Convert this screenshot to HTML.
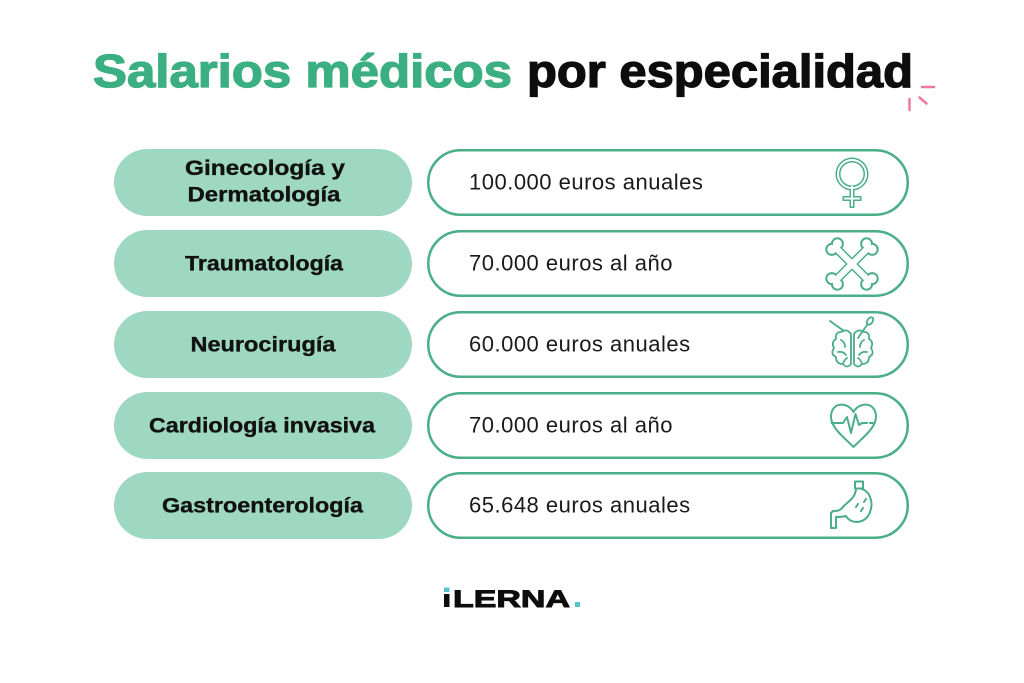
<!DOCTYPE html>
<html>
<head>
<meta charset="utf-8">
<style>
  html, body { margin:0; padding:0; background:#ffffff; }
  body { width:1024px; height:683px; overflow:hidden; }
  svg { display:block; }
  .lbl { font-family:"Liberation Sans", Arial, sans-serif; font-weight:bold; font-size:21px; fill:#111111; stroke:#111111; stroke-width:0.35; }
  .val { font-family:"Liberation Sans", Arial, sans-serif; font-size:22px; fill:#1a1a1a; letter-spacing:0.5px; }
</style>
</head>
<body>
<svg width="1024" height="683" viewBox="0 0 1024 683" xmlns="http://www.w3.org/2000/svg">
  <rect width="1024" height="683" fill="#ffffff"/>

  <!-- Title -->
  <text x="93" y="87" font-family="Liberation Sans, Arial, sans-serif" font-weight="bold" font-size="46" fill="#3baf82" stroke="#3baf82" stroke-width="1.3" textLength="419" lengthAdjust="spacingAndGlyphs">Salarios médicos</text>
  <text x="527" y="87" font-family="Liberation Sans, Arial, sans-serif" font-weight="bold" font-size="46" fill="#0d0d0d" stroke="#0d0d0d" stroke-width="1.3" textLength="386" lengthAdjust="spacingAndGlyphs">por especialidad</text>

  <!-- pink accent -->
  <g stroke="#ef7a9a" stroke-width="2.5" stroke-linecap="round" fill="none">
    <line x1="922" y1="87" x2="934" y2="87"/>
    <line x1="909.5" y1="99" x2="909.5" y2="110"/>
    <line x1="919.5" y1="97.5" x2="926.5" y2="103.5"/>
  </g>

  <!-- Left pills -->
  <g fill="#9ed8c2">
    <rect x="114" y="149" width="298" height="67" rx="33.5"/>
    <rect x="114" y="230" width="298" height="67" rx="33.5"/>
    <rect x="114" y="311" width="298" height="67" rx="33.5"/>
    <rect x="114" y="392" width="298" height="67" rx="33.5"/>
    <rect x="114" y="472" width="298" height="67" rx="33.5"/>
  </g>

  <!-- Right pills -->
  <g fill="#ffffff" stroke="#4aae88" stroke-width="2.5">
    <rect x="428.25" y="150.25" width="479.5" height="64.5" rx="32.25"/>
    <rect x="428.25" y="231.25" width="479.5" height="64.5" rx="32.25"/>
    <rect x="428.25" y="312.25" width="479.5" height="64.5" rx="32.25"/>
    <rect x="428.25" y="393.25" width="479.5" height="64.5" rx="32.25"/>
    <rect x="428.25" y="473.25" width="479.5" height="64.5" rx="32.25"/>
  </g>

  <!-- Left labels -->
  <g text-anchor="middle">
    <text class="lbl" x="265" y="175" textLength="160" lengthAdjust="spacingAndGlyphs">Ginecología y</text>
    <text class="lbl" x="264" y="201.5" textLength="153" lengthAdjust="spacingAndGlyphs">Dermatología</text>
    <text class="lbl" x="264" y="270.5" textLength="158" lengthAdjust="spacingAndGlyphs">Traumatología</text>
    <text class="lbl" x="263" y="351.5" textLength="145" lengthAdjust="spacingAndGlyphs">Neurocirugía</text>
    <text class="lbl" x="262" y="432.5" textLength="226" lengthAdjust="spacingAndGlyphs">Cardiología invasiva</text>
    <text class="lbl" x="262.5" y="512.5" textLength="201" lengthAdjust="spacingAndGlyphs">Gastroenterología</text>
  </g>

  <!-- Right values -->
  <text class="val" x="469" y="189.5">100.000 euros anuales</text>
  <text class="val" x="469" y="270.5">70.000 euros al año</text>
  <text class="val" x="469" y="351.5">60.000 euros anuales</text>
  <text class="val" x="469" y="432.5">70.000 euros al año</text>
  <text class="val" x="469" y="512.5">65.648 euros anuales</text>

  <!-- Venus icon (double outline) -->
  <g fill="none" stroke-linecap="butt">
    <g stroke="#4aae88" stroke-width="5">
      <circle cx="852" cy="174" r="14"/>
      <line x1="852" y1="187" x2="852" y2="208"/>
      <line x1="842.5" y1="198.5" x2="861.5" y2="198.5"/>
    </g>
    <g stroke="#ffffff" stroke-width="2">
      <circle cx="852" cy="174" r="14"/>
      <line x1="852" y1="186" x2="852" y2="206.5"/>
      <line x1="844" y1="198.5" x2="860" y2="198.5"/>
    </g>
  </g>

  <!-- Bones icon (double outline) -->
  <g>
    <g stroke="#4aae88" fill="#4aae88">
      <line x1="836" y1="248" x2="868" y2="280" stroke-width="9"/>
      <line x1="868" y1="248" x2="836" y2="280" stroke-width="9"/>
      <circle cx="837.4" cy="243.8" r="6"/><circle cx="831.8" cy="249.4" r="6"/>
      <circle cx="872.2" cy="278.6" r="6"/><circle cx="866.6" cy="284.2" r="6"/>
      <circle cx="872.2" cy="249.4" r="6"/><circle cx="866.6" cy="243.8" r="6"/>
      <circle cx="837.4" cy="284.2" r="6"/><circle cx="831.8" cy="278.6" r="6"/>
    </g>
    <g stroke="#ffffff" fill="#ffffff">
      <line x1="836" y1="248" x2="868" y2="280" stroke-width="6"/>
      <line x1="868" y1="248" x2="836" y2="280" stroke-width="6"/>
      <circle cx="837.4" cy="243.8" r="4.5" stroke="none"/><circle cx="831.8" cy="249.4" r="4.5" stroke="none"/>
      <circle cx="872.2" cy="278.6" r="4.5" stroke="none"/><circle cx="866.6" cy="284.2" r="4.5" stroke="none"/>
      <circle cx="872.2" cy="249.4" r="4.5" stroke="none"/><circle cx="866.6" cy="243.8" r="4.5" stroke="none"/>
      <circle cx="837.4" cy="284.2" r="4.5" stroke="none"/><circle cx="831.8" cy="278.6" r="4.5" stroke="none"/>
    </g>
  </g>

  <!-- Brain icon -->
  <g fill="none" stroke="#4aae88" stroke-width="1.8" stroke-linecap="round" stroke-linejoin="round">
    <path d="M851,334 Q847,328 841,332 Q835,332 836,339 Q831,342 834,348 Q830,354 836,357 Q836,364 843,364 Q847,369 851,364 Z"/>
    <path d="M854,334 Q858,328 864,332 Q870,332 869,339 Q874,342 871,348 Q875,354 869,357 Q869,364 862,364 Q858,369 854,364 Z"/>
    <path d="M841,340 Q845,342 845,347 M838,352 Q843,351 846,355 M847,358 Q844,360 843,364"/>
    <path d="M864,340 Q860,342 860,347 M867,352 Q862,351 859,355 M858,358 Q861,360 862,364"/>
    <path d="M830,321 L844,331"/>
    <path d="M858,338 L867,325"/>
    <ellipse cx="870" cy="321" rx="2.6" ry="4.2" transform="rotate(35 870 321)"/>
  </g>

  <!-- Heart icon -->
  <g fill="none" stroke="#4aae88" stroke-width="2" stroke-linejoin="round" stroke-linecap="round">
    <path d="M853.5,412 C848,402 832,401 831,416 C830.5,428 845,438 853.5,447 C862,438 876.5,428 876,416 C875,401 859,402 853.5,412 Z"/>
    <path d="M831.5,423 L843,423 L847,417 L851,433 L855.5,414 L859,425 L862,423 L867,423"/>
    <path d="M870,423 L873,423"/>
  </g>

  <!-- Stomach icon -->
  <g fill="none" stroke="#4aae88" stroke-width="2" stroke-linejoin="round" stroke-linecap="round">
    <rect x="855" y="481.5" width="8" height="7"/>
    <path d="M856,489 C855,499 847,502 843,507 C840,511 837,511 833,511 L831,513 L831,528 L836,528 L836,517 C840,517 843,517 846,516 C851,525 866,524 870,512 C874,501 869,491 862,489"/>
    <path d="M856,507 L858,504 M861,511 L863,508 M864,502 L866,499"/>
  </g>

  <!-- Logo -->
  <rect x="444" y="587.5" width="5.5" height="4.5" fill="#5bc0d0"/>
  <rect x="444" y="594" width="5.5" height="13" fill="#0d0d0d"/>
  <text x="453" y="607" font-family="Liberation Sans, Arial, sans-serif" font-weight="bold" font-size="24" fill="#0d0d0d" stroke="#0d0d0d" stroke-width="0.9" textLength="117" lengthAdjust="spacingAndGlyphs">LERNA</text>
  <rect x="575" y="602" width="5" height="5" fill="#5bc0d0"/>
</svg>
</body>
</html>
